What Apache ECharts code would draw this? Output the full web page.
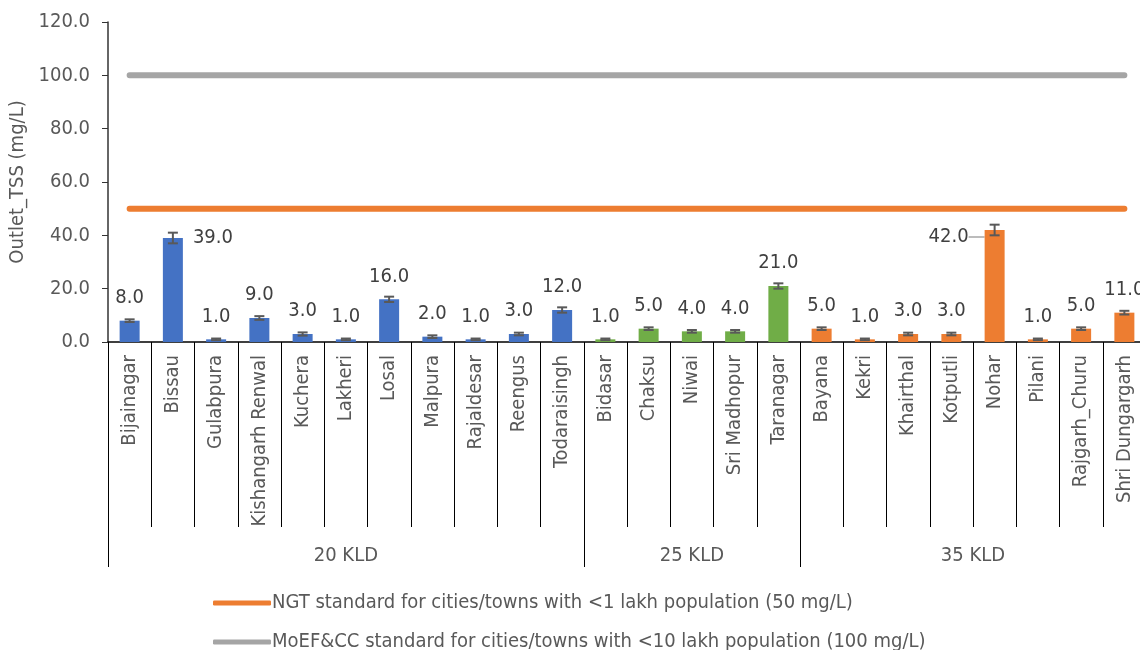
<!DOCTYPE html>
<html>
<head>
<meta charset="utf-8">
<script src="https://cdn.jsdelivr.net/npm/echarts@6/dist/echarts.min.js"></script>
<style>
  html, body { margin: 0; padding: 0; background: #fff; }
  #chart { width: 1140px; height: 650px; }
</style>
</head>
<body>
<div id="chart"></div>
<script>
// town names, grouped by plant capacity
var towns = ['Bijainagar', 'Bissau', 'Gulabpura', 'Kishangarh Renwal', 'Kuchera', 'Lakheri', 'Losal',
    'Malpura', 'Rajaldesar', 'Reengus', 'Todaraisingh',
    'Bidasar', 'Chaksu', 'Niwai', 'Sri Madhopur', 'Taranagar',
    'Bayana', 'Kekri', 'Khairthal', 'Kotputli', 'Nohar', 'Pilani', 'Rajgarh_Churu', 'Shri Dungargarh'];
var groupNames = ['20 KLD', '25 KLD', '35 KLD'];
var groupSizes = [11, 5, 8];
var groupColors = ['#4472C4', '#70AD47', '#ED7D31'];

// outlet TSS (mg/L) and error bar half-widths
var tssValues = [8, 39, 1, 9, 3, 1, 16, 2, 1, 3, 12, 1, 5, 4, 4, 21, 5, 1, 3, 3, 42, 1, 5, 11];
var tssErrors = [0.5, 2, 0.3, 0.7, 0.6, 0.3, 1, 0.5, 0.3, 0.5, 1, 0.3, 0.5, 0.5, 0.5, 1, 0.5, 0.3, 0.5, 0.5, 2, 0.3, 0.5, 0.7];

// standards
var ngtStandard = [50, 50, 50, 50, 50, 50, 50, 50, 50, 50, 50, 50, 50, 50, 50, 50, 50, 50, 50, 50, 50, 50, 50, 50];
var moefStandard = [100, 100, 100, 100, 100, 100, 100, 100, 100, 100, 100, 100, 100, 100, 100, 100, 100, 100, 100, 100, 100, 100, 100, 100];
var ngtName = 'NGT standard for cities/towns with <1 lakh population (50 mg/L)';
var moefName = 'MoEF&CC standard for cities/towns with <10 lakh population (100 mg/L)';

var yTicks = { min: 0, max: 120, interval: 20 };

var FONT = '"DejaVu Sans Condensed", "DejaVu Sans", sans-serif';
var TEXT = '#595959';
var FS = 20;

// colour per bar from its group
var barColors = [];
groupSizes.forEach(function(n, g) {
    for (var i = 0; i < n; i++) barColors.push(groupColors[g]);
});

// half-step points for the group axis: group edges and centres
var halfPoints = [];
for (var k = 0; k <= towns.length * 2; k++) halfPoints.push('');
var edgeIdx = [0], centreIdx = [];
var acc = 0;
groupSizes.forEach(function(n, g) {
    centreIdx.push(acc * 2 + n);
    halfPoints[acc * 2 + n] = groupNames[g];
    acc += n;
    edgeIdx.push(acc * 2);
});

var barData = tssValues.map(function(v, i) {
    var item = { value: v, itemStyle: { color: barColors[i] } };
    if (towns[i] === 'Bissau') {
        item.label = { position: [30, 0], align: 'left', verticalAlign: 'middle' };
    }
    if (towns[i] === 'Nohar') {
        item.label = { position: [-16, 7], align: 'right', verticalAlign: 'middle' };
        item.labelLine = { show: true, lineStyle: { color: '#A6A6A6', width: 1.5 } };
    }
    return item;
});

var errData = tssValues.map(function(v, i) {
    return [i, v - tssErrors[i], v + tssErrors[i]];
});

function legendBox(name, top) {
    return {
        orient: 'horizontal',
        left: 208,
        top: top,
        itemWidth: 58,
        itemHeight: 5,
        icon: 'roundRect',
        data: [name],
        textStyle: { fontFamily: FONT, fontSize: FS, color: TEXT, padding: [0, 0, 0, -4] }
    };
}

var chart = echarts.init(document.getElementById('chart'));

var option = {
    animation: false,
    textStyle: { fontFamily: FONT },
    grid: { left: 108, top: 22, width: 1038, height: 320, outerBoundsMode: 'none', containLabel: false },
    legend: [legendBox(ngtName, 588), legendBox(moefName, 627)],
    xAxis: [{
        type: 'category',
        data: towns,
        axisLine: { lineStyle: { color: '#000', width: 1.5 } },
        axisTick: { show: true, interval: 0, length: 185, lineStyle: { color: '#000', width: 1 } },
        axisLabel: { interval: 0, rotate: 90, margin: 13, fontSize: FS, color: TEXT, fontFamily: FONT }
    }, {
        type: 'category',
        data: halfPoints,
        boundaryGap: false,
        position: 'bottom',
        axisLine: { show: false },
        axisTick: {
            show: true,
            length: 225,
            interval: function(i) { return edgeIdx.indexOf(i) >= 0; },
            lineStyle: { color: '#000', width: 1 }
        },
        axisLabel: {
            margin: 204,
            fontSize: FS,
            color: TEXT,
            fontFamily: FONT,
            interval: function(i) { return centreIdx.indexOf(i) >= 0; }
        }
    }],
    yAxis: {
        type: 'value',
        min: yTicks.min,
        max: yTicks.max,
        interval: yTicks.interval,
        name: 'Outlet_TSS (mg/L)',
        nameLocation: 'middle',
        nameGap: 80,
        nameTextStyle: { fontSize: FS, color: TEXT, fontFamily: FONT },
        splitLine: { show: false },
        axisLine: { show: true, lineStyle: { color: '#333', width: 1.5 } },
        axisTick: { show: true, length: 6, lineStyle: { color: '#333' } },
        axisLabel: {
            margin: 18,
            fontSize: FS,
            color: TEXT,
            fontFamily: FONT,
            formatter: function(v) { return v.toFixed(1); }
        }
    },
    series: [{
        type: 'bar',
        name: 'Outlet TSS',
        data: barData,
        barWidth: 20,
        label: {
            show: true,
            position: 'top',
            distance: 13,
            fontSize: FS,
            color: '#404040',
            fontFamily: FONT,
            formatter: function(p) { return p.value.toFixed(1); }
        }
    }, {
        type: 'custom',
        name: 'error',
        data: errData,
        encode: { x: 0, y: [1, 2] },
        z: 5,
        renderItem: function(params, api) {
            var x = api.value(0);
            var lo = api.coord([x, api.value(1)]);
            var hi = api.coord([x, api.value(2)]);
            var cap = 5;
            var style = { stroke: '#595959', lineWidth: 2 };
            return {
                type: 'group',
                children: [
                    { type: 'line', shape: { x1: lo[0], y1: lo[1], x2: hi[0], y2: hi[1] }, style: style },
                    { type: 'line', shape: { x1: lo[0] - cap, y1: lo[1], x2: lo[0] + cap, y2: lo[1] }, style: style },
                    { type: 'line', shape: { x1: hi[0] - cap, y1: hi[1], x2: hi[0] + cap, y2: hi[1] }, style: style }
                ]
            };
        }
    }, {
        type: 'line',
        name: ngtName,
        data: ngtStandard,
        symbol: 'none',
        color: '#ED7D31',
        lineStyle: { width: 6, cap: 'round' }
    }, {
        type: 'line',
        name: moefName,
        data: moefStandard,
        symbol: 'none',
        color: '#A5A5A5',
        lineStyle: { width: 6, cap: 'round' }
    }]
};

chart.setOption(option);
</script>
</body>
</html>
